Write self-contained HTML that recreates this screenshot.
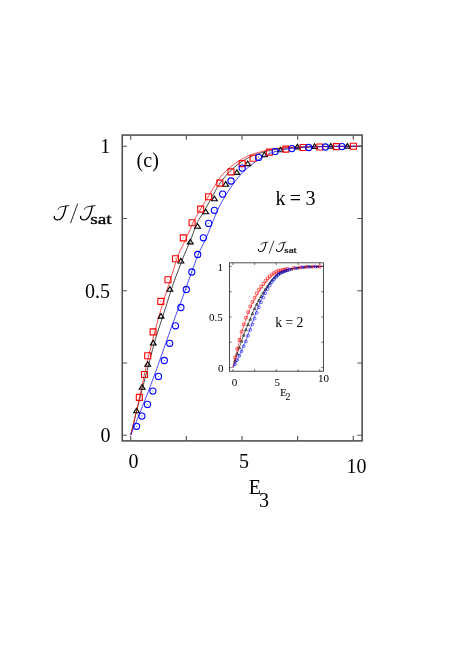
<!DOCTYPE html>
<html><head><meta charset="utf-8"><title>J/Jsat vs E3</title>
<style>html,body{margin:0;padding:0;background:#fff;}body{width:457px;height:646px;overflow:hidden;font-family:"Liberation Serif",serif;}svg{display:block;will-change:transform;}</style></head>
<body>
<svg width="457" height="646" viewBox="0 0 457 646" font-family="'Liberation Serif', serif" fill="#000">
<rect x="0" y="0" width="457" height="646" fill="#fff"/>
<defs><clipPath id="cm"><rect x="122.25" y="135.07" width="239.88" height="305.83"/></clipPath>
<clipPath id="ci"><rect x="229.5" y="262.8" width="93.95" height="108.46"/></clipPath></defs>
<g clip-path="url(#cm)" fill="none" stroke-width="0.72">
<path d="M130.7 435.1 L132.16 429.08 L133.61 423.13 L135.07 417.23 L136.52 411.39 L137.98 405.6 L139.43 399.86 L140.89 394.17 L142.34 388.52 L143.8 382.97 L145.25 377.5 L146.71 372.04 L148.16 366.52 L149.62 360.89 L151.07 355.25 L152.53 349.69 L153.99 344.31 L155.44 339.22 L156.9 334.45 L158.35 329.91 L159.81 325.48 L161.26 321.04 L162.72 316.52 L164.17 311.95 L165.63 307.36 L167.08 302.77 L168.54 298.21 L169.99 293.71 L171.45 289.29 L172.91 284.97 L174.36 280.79 L175.82 276.79 L177.27 273.03 L178.73 269.28 L180.18 265.44 L181.64 261.6 L183.09 257.81 L184.55 254.14 L186 250.67 L187.46 247.32 L188.91 244.01 L190.37 240.61 L191.82 237.02 L193.28 233.04 L194.74 228.39 L196.19 224.34 L197.65 221.53 L199.1 219.22 L200.56 217.11 L202.01 214.91 L203.47 212.46 L204.92 209.92 L206.38 207.31 L207.83 204.65 L209.29 201.96 L210.74 199.26 L212.2 196.57 L213.65 193.92 L215.11 191.33 L216.57 188.82 L218.02 186.41 L219.48 184.12 L220.93 181.97 L222.39 179.99 L223.84 178.13 L225.3 176.37 L226.75 174.7 L228.21 173.12 L229.66 171.61 L231.12 170.19 L232.57 168.82 L234.03 167.53 L235.48 166.29 L236.94 165.11 L238.4 164 L239.85 162.95 L241.31 161.94 L242.76 160.97 L244.22 160.05 L245.67 159.18 L247.13 158.38 L248.58 157.64 L250.04 156.95 L251.49 156.32 L252.95 155.72 L254.4 155.15 L255.86 154.61 L257.32 154.09 L258.77 153.6 L260.23 153.13 L261.68 152.69 L263.14 152.27 L264.59 151.85 L266.05 151.45 L267.5 151.07 L268.96 150.72 L270.41 150.42 L271.87 150.12 L273.32 149.84 L274.78 149.56 L276.23 149.3 L277.69 149.05 L279.15 148.82 L280.6 148.61 L282.06 148.42 L283.51 148.25 L284.97 148.1 L286.42 147.98 L287.88 147.86 L289.33 147.74 L290.79 147.63 L292.24 147.53 L293.7 147.43 L295.15 147.34 L296.61 147.26 L298.06 147.18 L299.52 147.11 L300.98 147.05 L302.43 146.99 L303.89 146.94 L305.34 146.89 L306.8 146.85 L308.25 146.8 L309.71 146.76 L311.16 146.72 L312.62 146.69 L314.07 146.65 L315.53 146.62 L316.98 146.59 L318.44 146.56 L319.89 146.53 L321.35 146.5 L322.81 146.48 L324.26 146.46 L325.72 146.44 L327.17 146.42 L328.63 146.41 L330.08 146.4 L331.54 146.39 L332.99 146.38 L334.45 146.37 L335.9 146.36 L337.36 146.35 L338.81 146.34 L340.27 146.34 L341.73 146.33 L343.18 146.32 L344.64 146.31 L346.09 146.31 L347.55 146.3 L349 146.3 L350.46 146.29 L351.91 146.29 L353.37 146.28 L354.82 146.28 L356.28 146.28 L357.73 146.27 L359.19 146.27 L360.64 146.27 L362.1 146.27" stroke="#000"/>
<path d="M130.7 435.1 L132.16 429.25 L133.61 423.25 L135.07 417.11 L136.52 410.85 L137.98 404.47 L139.43 397.99 L140.89 391.42 L142.34 384.61 L143.8 377.49 L145.25 370.65 L146.71 364.3 L148.16 358.09 L149.62 352.03 L151.07 346.11 L152.53 340.34 L153.99 334.69 L155.44 329.19 L156.9 323.81 L158.35 318.57 L159.81 313.48 L161.26 308.53 L162.72 303.71 L164.17 298.98 L165.63 294.34 L167.08 289.75 L168.54 285.2 L169.99 280.67 L171.45 276.13 L172.91 271.56 L174.36 266.88 L175.82 262.09 L177.27 257.6 L178.73 253.82 L180.18 250.61 L181.64 247.7 L183.09 244.87 L184.55 241.92 L186 238.74 L187.46 235.44 L188.91 232.07 L190.37 228.73 L191.82 225.46 L193.28 222.35 L194.74 219.45 L196.19 216.71 L197.65 214.07 L199.1 211.53 L200.56 209.05 L202.01 206.63 L203.47 204.26 L204.92 201.91 L206.38 199.58 L207.83 197.24 L209.29 194.89 L210.74 192.49 L212.2 190.03 L213.65 187.56 L215.11 185.12 L216.57 182.75 L218.02 180.47 L219.48 178.34 L220.93 176.39 L222.39 174.66 L223.84 173.09 L225.3 171.64 L226.75 170.29 L228.21 169.01 L229.66 167.79 L231.12 166.6 L232.57 165.45 L234.03 164.34 L235.48 163.27 L236.94 162.26 L238.4 161.3 L239.85 160.38 L241.31 159.51 L242.76 158.66 L244.22 157.86 L245.67 157.1 L247.13 156.4 L248.58 155.76 L250.04 155.17 L251.49 154.61 L252.95 154.09 L254.4 153.61 L255.86 153.14 L257.32 152.71 L258.77 152.31 L260.23 151.94 L261.68 151.58 L263.14 151.21 L264.59 150.83 L266.05 150.46 L267.5 150.11 L268.96 149.79 L270.41 149.53 L271.87 149.29 L273.32 149.06 L274.78 148.84 L276.23 148.63 L277.69 148.43 L279.15 148.25 L280.6 148.09 L282.06 147.94 L283.51 147.81 L284.97 147.7 L286.42 147.61 L287.88 147.51 L289.33 147.43 L290.79 147.35 L292.24 147.27 L293.7 147.2 L295.15 147.13 L296.61 147.07 L298.06 147.01 L299.52 146.96 L300.98 146.91 L302.43 146.87 L303.89 146.83 L305.34 146.79 L306.8 146.76 L308.25 146.72 L309.71 146.69 L311.16 146.66 L312.62 146.63 L314.07 146.61 L315.53 146.58 L316.98 146.55 L318.44 146.53 L319.89 146.51 L321.35 146.49 L322.81 146.47 L324.26 146.45 L325.72 146.44 L327.17 146.42 L328.63 146.41 L330.08 146.4 L331.54 146.39 L332.99 146.38 L334.45 146.37 L335.9 146.36 L337.36 146.35 L338.81 146.35 L340.27 146.34 L341.73 146.33 L343.18 146.32 L344.64 146.31 L346.09 146.31 L347.55 146.3 L349 146.3 L350.46 146.29 L351.91 146.29 L353.37 146.28 L354.82 146.28 L356.28 146.28 L357.73 146.27 L359.19 146.27 L360.64 146.27 L362.1 146.27" stroke="#f00"/>
<path d="M130.7 435.1 L132.16 431.67 L133.61 428.2 L135.07 424.7 L136.52 421.15 L137.98 417.58 L139.43 413.97 L140.89 410.34 L142.34 406.68 L143.8 402.99 L145.25 399.27 L146.71 395.54 L148.16 391.78 L149.62 387.99 L151.07 384.16 L152.53 380.26 L153.99 376.33 L155.44 372.36 L156.9 368.35 L158.35 364.29 L159.81 360.18 L161.26 356.05 L162.72 351.93 L164.17 347.82 L165.63 343.68 L167.08 339.54 L168.54 335.39 L169.99 331.26 L171.45 327.17 L172.91 323.12 L174.36 319.13 L175.82 315.23 L177.27 311.4 L178.73 307.61 L180.18 303.82 L181.64 300 L183.09 296.11 L184.55 292.12 L186 288.04 L187.46 283.91 L188.91 279.77 L190.37 275.65 L191.82 271.58 L193.28 267.57 L194.74 263.52 L196.19 259.56 L197.65 255.85 L199.1 252.51 L200.56 249.47 L202.01 246.57 L203.47 243.67 L204.92 240.61 L206.38 237.32 L207.83 233.87 L209.29 230.34 L210.74 226.75 L212.2 223.16 L213.65 219.63 L215.11 215.99 L216.57 212.42 L218.02 209.24 L219.48 206.33 L220.93 203.56 L222.39 200.92 L223.84 198.39 L225.3 195.95 L226.75 193.6 L228.21 191.33 L229.66 189.1 L231.12 186.95 L232.57 184.87 L234.03 182.88 L235.48 180.96 L236.94 179.12 L238.4 177.35 L239.85 175.64 L241.31 174 L242.76 172.44 L244.22 170.97 L245.67 169.59 L247.13 168.31 L248.58 167.08 L250.04 165.91 L251.49 164.75 L252.95 163.6 L254.4 162.5 L255.86 161.44 L257.32 160.46 L258.77 159.52 L260.23 158.63 L261.68 157.78 L263.14 156.94 L264.59 156.1 L266.05 155.27 L267.5 154.51 L268.96 153.82 L270.41 153.25 L271.87 152.72 L273.32 152.23 L274.78 151.75 L276.23 151.31 L277.69 150.89 L279.15 150.51 L280.6 150.15 L282.06 149.83 L283.51 149.55 L284.97 149.31 L286.42 149.08 L287.88 148.87 L289.33 148.67 L290.79 148.47 L292.24 148.29 L293.7 148.12 L295.15 147.96 L296.61 147.81 L298.06 147.67 L299.52 147.55 L300.98 147.44 L302.43 147.34 L303.89 147.25 L305.34 147.18 L306.8 147.12 L308.25 147.06 L309.71 147 L311.16 146.95 L312.62 146.9 L314.07 146.85 L315.53 146.8 L316.98 146.76 L318.44 146.72 L319.89 146.68 L321.35 146.65 L322.81 146.62 L324.26 146.59 L325.72 146.56 L327.17 146.54 L328.63 146.52 L330.08 146.5 L331.54 146.48 L332.99 146.47 L334.45 146.45 L335.9 146.43 L337.36 146.42 L338.81 146.4 L340.27 146.39 L341.73 146.38 L343.18 146.36 L344.64 146.35 L346.09 146.34 L347.55 146.33 L349 146.32 L350.46 146.31 L351.91 146.3 L353.37 146.29 L354.82 146.29 L356.28 146.28 L357.73 146.28 L359.19 146.27 L360.64 146.27 L362.1 146.27" stroke="#00f"/>
</g>
<g fill="none" stroke="#000" stroke-width="1.12" stroke-linejoin="miter"><path d="M136.5 408.2 L133.6 412.8 L139.4 412.8Z"/><path d="M142.1 384.6 L139.2 389.2 L145 389.2Z"/><path d="M147.7 361.7 L144.8 366.3 L150.6 366.3Z"/><path d="M153.3 340.4 L150.4 345 L156.2 345Z"/><path d="M161 313.5 L158.1 318.1 L163.9 318.1Z"/><path d="M169.9 286.6 L167 291.2 L172.8 291.2Z"/><path d="M180.9 258.4 L178 263 L183.8 263Z"/><path d="M190.3 239.3 L187.4 243.9 L193.2 243.9Z"/><path d="M197.6 223.7 L194.7 228.3 L200.5 228.3Z"/><path d="M205.7 209.2 L202.8 213.8 L208.6 213.8Z"/><path d="M214.4 196.1 L211.5 200.7 L217.3 200.7Z"/><path d="M225.7 181.6 L222.8 186.2 L228.6 186.2Z"/><path d="M236.9 169.8 L234 174.4 L239.8 174.4Z"/><path d="M247.7 161 L244.8 165.6 L250.6 165.6Z"/><path d="M264.5 152.2 L261.6 156.8 L267.4 156.8Z"/><path d="M280.5 147.2 L277.6 151.8 L283.4 151.8Z"/><path d="M297.4 144.3 L294.5 148.9 L300.3 148.9Z"/><path d="M314.5 143.8 L311.6 148.4 L317.4 148.4Z"/><path d="M330.8 143.5 L327.9 148.1 L333.7 148.1Z"/><path d="M347.4 143.5 L344.5 148.1 L350.3 148.1Z"/></g>
<g fill="#000" fill-opacity="0.25" stroke="none"><circle cx="136.5" cy="411.3" r="0.45"/><circle cx="142.1" cy="387.7" r="0.45"/><circle cx="147.7" cy="364.8" r="0.45"/><circle cx="153.3" cy="343.5" r="0.45"/><circle cx="161" cy="316.6" r="0.45"/><circle cx="169.9" cy="289.7" r="0.45"/><circle cx="180.9" cy="261.5" r="0.45"/><circle cx="190.3" cy="242.4" r="0.45"/><circle cx="197.6" cy="226.8" r="0.45"/><circle cx="205.7" cy="212.3" r="0.45"/><circle cx="214.4" cy="199.2" r="0.45"/><circle cx="225.7" cy="184.7" r="0.45"/><circle cx="236.9" cy="172.9" r="0.45"/><circle cx="247.7" cy="164.1" r="0.45"/><circle cx="264.5" cy="155.3" r="0.45"/><circle cx="280.5" cy="150.3" r="0.45"/><circle cx="297.4" cy="147.4" r="0.45"/><circle cx="314.5" cy="146.9" r="0.45"/><circle cx="330.8" cy="146.6" r="0.45"/><circle cx="347.4" cy="146.6" r="0.45"/></g>
<g fill="none" stroke="#f00" stroke-width="1.1" stroke-linejoin="round"><rect x="136.3" y="394.4" width="6" height="6"/><rect x="141.5" y="371.5" width="6" height="6"/><rect x="144.7" y="352.8" width="6" height="6"/><rect x="150.1" y="328.9" width="6" height="6"/><rect x="157.8" y="298.4" width="6" height="6"/><rect x="164.95" y="276.75" width="6" height="6"/><rect x="172.5" y="255.7" width="6" height="6"/><rect x="180.3" y="234.9" width="6" height="6"/><rect x="189.1" y="219.7" width="6" height="6"/><rect x="197.7" y="206.1" width="6" height="6"/><rect x="205.6" y="193.8" width="6" height="6"/><rect x="216.85" y="180.1" width="6" height="6"/><rect x="228" y="168.9" width="6" height="6"/><rect x="239.2" y="160.6" width="6" height="6"/><rect x="250.1" y="155.2" width="6" height="6"/><rect x="266.4" y="149.15" width="6" height="6"/><rect x="282.9" y="146.1" width="6" height="6"/><rect x="300.1" y="144.5" width="6" height="6"/><rect x="316.8" y="144" width="6" height="6"/><rect x="333.4" y="143.6" width="6" height="6"/><rect x="350.4" y="143.3" width="6" height="6"/></g>
<g fill="#f00" fill-opacity="0.45" stroke="none"><circle cx="139.3" cy="397.4" r="0.6"/><circle cx="144.5" cy="374.5" r="0.6"/><circle cx="147.7" cy="355.8" r="0.6"/><circle cx="153.1" cy="331.9" r="0.6"/><circle cx="160.8" cy="301.4" r="0.6"/><circle cx="167.95" cy="279.75" r="0.6"/><circle cx="175.5" cy="258.7" r="0.6"/><circle cx="183.3" cy="237.9" r="0.6"/><circle cx="192.1" cy="222.7" r="0.6"/><circle cx="200.7" cy="209.1" r="0.6"/><circle cx="208.6" cy="196.8" r="0.6"/><circle cx="219.85" cy="183.1" r="0.6"/><circle cx="231" cy="171.9" r="0.6"/><circle cx="242.2" cy="163.6" r="0.6"/><circle cx="253.1" cy="158.2" r="0.6"/><circle cx="269.4" cy="152.15" r="0.6"/><circle cx="285.9" cy="149.1" r="0.6"/><circle cx="303.1" cy="147.5" r="0.6"/><circle cx="319.8" cy="147" r="0.6"/><circle cx="336.4" cy="146.6" r="0.6"/><circle cx="353.4" cy="146.3" r="0.6"/></g>
<g fill="none" stroke="#00f" stroke-width="1.1"><circle cx="136.6" cy="426.3" r="3.08"/><circle cx="141.9" cy="416.1" r="3.08"/><circle cx="147.5" cy="404.4" r="3.08"/><circle cx="152.9" cy="391.1" r="3.08"/><circle cx="158.5" cy="376.4" r="3.08"/><circle cx="164.3" cy="360.5" r="3.08"/><circle cx="169.7" cy="343.3" r="3.08"/><circle cx="175.5" cy="325.8" r="3.08"/><circle cx="180.9" cy="307.5" r="3.08"/><circle cx="186.35" cy="289.45" r="3.08"/><circle cx="191.8" cy="272" r="3.08"/><circle cx="197.7" cy="254.5" r="3.08"/><circle cx="203.35" cy="237.8" r="3.08"/><circle cx="208.6" cy="223.4" r="3.08"/><circle cx="214.35" cy="210.3" r="3.08"/><circle cx="222.6" cy="194.1" r="3.08"/><circle cx="231" cy="181" r="3.08"/><circle cx="242.2" cy="168.1" r="3.08"/><circle cx="258.6" cy="157.4" r="3.08"/><circle cx="275.2" cy="151.4" r="3.08"/><circle cx="291.9" cy="148.6" r="3.08"/><circle cx="308.7" cy="147.5" r="3.08"/><circle cx="325.4" cy="147" r="3.08"/><circle cx="342" cy="146.6" r="3.08"/></g>
<g fill="#00f" fill-opacity="0.5" stroke="none"><circle cx="136.6" cy="426.3" r="0.6"/><circle cx="141.9" cy="416.1" r="0.6"/><circle cx="147.5" cy="404.4" r="0.6"/><circle cx="152.9" cy="391.1" r="0.6"/><circle cx="158.5" cy="376.4" r="0.6"/><circle cx="164.3" cy="360.5" r="0.6"/><circle cx="169.7" cy="343.3" r="0.6"/><circle cx="175.5" cy="325.8" r="0.6"/><circle cx="180.9" cy="307.5" r="0.6"/><circle cx="186.35" cy="289.45" r="0.6"/><circle cx="191.8" cy="272" r="0.6"/><circle cx="197.7" cy="254.5" r="0.6"/><circle cx="203.35" cy="237.8" r="0.6"/><circle cx="208.6" cy="223.4" r="0.6"/><circle cx="214.35" cy="210.3" r="0.6"/><circle cx="222.6" cy="194.1" r="0.6"/><circle cx="231" cy="181" r="0.6"/><circle cx="242.2" cy="168.1" r="0.6"/><circle cx="258.6" cy="157.4" r="0.6"/><circle cx="275.2" cy="151.4" r="0.6"/><circle cx="291.9" cy="148.6" r="0.6"/><circle cx="308.7" cy="147.5" r="0.6"/><circle cx="325.4" cy="147" r="0.6"/><circle cx="342" cy="146.6" r="0.6"/></g>
<g fill="none" stroke="#484848" stroke-width="1.5">
<rect x="122.25" y="135.07" width="239.88" height="305.83"/>
<path d="M130.74 440.9 v-4.8 M130.74 135.07 v4.8 M186.38 440.9 v-4.8 M186.38 135.07 v4.8 M242.02 440.9 v-4.8 M242.02 135.07 v4.8 M297.66 440.9 v-4.8 M297.66 135.07 v4.8 M353.3 440.9 v-4.8 M353.3 135.07 v4.8 M122.25 435.2 h4.8 M362.13 435.2 h-4.8 M122.25 362.97 h4.8 M362.13 362.97 h-4.8 M122.25 290.74 h4.8 M362.13 290.74 h-4.8 M122.25 218.5 h4.8 M362.13 218.5 h-4.8 M122.25 146.27 h4.8 M362.13 146.27 h-4.8" stroke-width="1.15" stroke="#555"/>
</g>
<g font-size="20">
<text x="133.4" y="467.5" text-anchor="middle">0</text>
<text x="244.1" y="467.5" text-anchor="middle">5</text>
<text x="356.6" y="472.6" text-anchor="middle">10</text>
<text x="110.3" y="153.1" text-anchor="end">1</text>
<text x="109.9" y="297.8" text-anchor="end">0.5</text>
<text x="110.4" y="441.9" text-anchor="end">0</text>
<text x="248.8" y="493.8">E</text>
<text x="258.9" y="506.9">3</text>
<text x="136.6" y="166.9">(c)</text>
<text x="275.4" y="205" word-spacing="-0.6">k = 3</text>
</g>
<g transform="translate(53.9 205.5) scale(1)" fill="none" stroke="#000" stroke-linecap="round" stroke-linejoin="round"><path transform="translate(0 0)" d="M4.1 3.9 C4.9 2.3 6.0 1.45 7.6 1.25 L14.9 0.1" stroke-width="0.85"/><path transform="translate(0 0)" d="M11.9 0.6 C11.65 2.6 11.4 3.7 11.0 5.1 C10.4 7.3 9.8 9.0 9.2 10.25 C8.4 11.9 7.5 12.9 6.6 13.45 C5.6 14.1 4.6 14.45 3.5 14.4 C2.3 14.35 1.3 13.9 0.8 13.2 C0.35 12.6 0.25 11.8 0.45 11.0" stroke-width="1.35"/><path transform="translate(26.3 0)" d="M4.1 3.9 C4.9 2.3 6.0 1.45 7.6 1.25 L14.9 0.1" stroke-width="0.85"/><path transform="translate(26.3 0)" d="M11.9 0.6 C11.65 2.6 11.4 3.7 11.0 5.1 C10.4 7.3 9.8 9.0 9.2 10.25 C8.4 11.9 7.5 12.9 6.6 13.45 C5.6 14.1 4.6 14.45 3.5 14.4 C2.3 14.35 1.3 13.9 0.8 13.2 C0.35 12.6 0.25 11.8 0.45 11.0" stroke-width="1.35"/><path d="M23.7 -1.6 L16.8 17.1" stroke-width="0.85"/></g><text x="90.3" y="223.5" font-size="14.6" font-weight="normal" textLength="21.4" lengthAdjust="spacingAndGlyphs" stroke="#000" stroke-width="0.32">sat</text>
<g clip-path="url(#ci)" fill="none" stroke-width="0.6">
<path d="M232.9 367.6 L233.55 365.54 L234.2 363.48 L234.85 361.42 L235.5 359.36 L236.15 357.28 L236.8 355.22 L237.45 353.21 L238.1 351.26 L238.74 349.33 L239.39 347.42 L240.04 345.49 L240.69 343.57 L241.34 341.68 L241.99 339.83 L242.64 338.03 L243.29 336.26 L243.94 334.53 L244.59 332.83 L245.24 331.17 L245.89 329.54 L246.54 327.97 L247.19 326.44 L247.84 324.91 L248.49 323.36 L249.14 321.8 L249.79 320.22 L250.43 318.61 L251.08 316.93 L251.73 315.23 L252.38 313.6 L253.03 312.05 L253.68 310.55 L254.33 309.11 L254.98 307.73 L255.63 306.41 L256.28 305.13 L256.93 303.87 L257.58 302.65 L258.23 301.44 L258.88 300.25 L259.53 299.04 L260.18 297.84 L260.83 296.68 L261.48 295.58 L262.12 294.56 L262.77 293.55 L263.42 292.51 L264.07 291.41 L264.72 290.29 L265.37 289.23 L266.02 288.27 L266.67 287.37 L267.32 286.49 L267.97 285.58 L268.62 284.67 L269.27 283.76 L269.92 282.86 L270.57 281.95 L271.22 281.06 L271.87 280.22 L272.52 279.46 L273.17 278.76 L273.81 278.09 L274.46 277.45 L275.11 276.83 L275.76 276.24 L276.41 275.66 L277.06 275.08 L277.71 274.53 L278.36 274.02 L279.01 273.54 L279.66 273.1 L280.31 272.7 L280.96 272.36 L281.61 272.08 L282.26 271.82 L282.91 271.57 L283.56 271.32 L284.21 271.07 L284.86 270.84 L285.5 270.62 L286.15 270.41 L286.8 270.2 L287.45 270 L288.1 269.81 L288.75 269.63 L289.4 269.46 L290.05 269.31 L290.7 269.16 L291.35 269.02 L292 268.89 L292.65 268.76 L293.3 268.64 L293.95 268.52 L294.6 268.41 L295.25 268.3 L295.9 268.19 L296.55 268.09 L297.19 267.99 L297.84 267.89 L298.49 267.79 L299.14 267.69 L299.79 267.59 L300.44 267.49 L301.09 267.4 L301.74 267.32 L302.39 267.25 L303.04 267.19 L303.69 267.13 L304.34 267.07 L304.99 267.02 L305.64 266.96 L306.29 266.91 L306.94 266.86 L307.59 266.82 L308.23 266.78 L308.88 266.74 L309.53 266.71 L310.18 266.68 L310.83 266.66 L311.48 266.64 L312.13 266.62 L312.78 266.6 L313.43 266.59 L314.08 266.57 L314.73 266.56 L315.38 266.54 L316.03 266.53 L316.68 266.52 L317.33 266.5 L317.98 266.49 L318.63 266.48 L319.28 266.48 L319.92 266.47 L320.57 266.46 L321.22 266.46 L321.87 266.45 L322.52 266.45 L323.17 266.45" stroke="#000"/>
<path d="M232.9 367.6 L233.55 364.52 L234.2 361.58 L234.85 358.78 L235.5 356.14 L236.15 353.71 L236.8 351.34 L237.45 348.89 L238.1 346.27 L238.74 343.57 L239.39 340.91 L240.04 338.39 L240.69 335.95 L241.34 333.58 L241.99 331.32 L242.64 329.17 L243.29 327.11 L243.94 325.1 L244.59 323.13 L245.24 321.2 L245.89 319.32 L246.54 317.53 L247.19 315.85 L247.84 314.25 L248.49 312.66 L249.14 311.02 L249.79 309.33 L250.43 307.69 L251.08 306.18 L251.73 304.81 L252.38 303.52 L253.03 302.26 L253.68 301.01 L254.33 299.79 L254.98 298.58 L255.63 297.37 L256.28 296.12 L256.93 294.88 L257.58 293.68 L258.23 292.56 L258.88 291.49 L259.53 290.46 L260.18 289.49 L260.83 288.59 L261.48 287.73 L262.12 286.89 L262.77 286.06 L263.42 285.25 L264.07 284.44 L264.72 283.62 L265.37 282.76 L266.02 281.9 L266.67 281.08 L267.32 280.31 L267.97 279.56 L268.62 278.85 L269.27 278.18 L269.92 277.54 L270.57 276.94 L271.22 276.36 L271.87 275.8 L272.52 275.26 L273.17 274.75 L273.81 274.28 L274.46 273.86 L275.11 273.46 L275.76 273.08 L276.41 272.68 L277.06 272.29 L277.71 271.92 L278.36 271.58 L279.01 271.25 L279.66 270.94 L280.31 270.71 L280.96 270.57 L281.61 270.46 L282.26 270.36 L282.91 270.24 L283.56 270.09 L284.21 269.94 L284.86 269.79 L285.5 269.67 L286.15 269.56 L286.8 269.44 L287.45 269.33 L288.1 269.21 L288.75 269.09 L289.4 268.97 L290.05 268.85 L290.7 268.73 L291.35 268.62 L292 268.52 L292.65 268.43 L293.3 268.34 L293.95 268.25 L294.6 268.17 L295.25 268.08 L295.9 268 L296.55 267.92 L297.19 267.85 L297.84 267.77 L298.49 267.7 L299.14 267.63 L299.79 267.56 L300.44 267.49 L301.09 267.42 L301.74 267.36 L302.39 267.29 L303.04 267.23 L303.69 267.17 L304.34 267.12 L304.99 267.07 L305.64 267.03 L306.29 266.99 L306.94 266.96 L307.59 266.92 L308.23 266.89 L308.88 266.85 L309.53 266.82 L310.18 266.79 L310.83 266.77 L311.48 266.74 L312.13 266.72 L312.78 266.69 L313.43 266.67 L314.08 266.66 L314.73 266.64 L315.38 266.63 L316.03 266.61 L316.68 266.6 L317.33 266.58 L317.98 266.57 L318.63 266.55 L319.28 266.54 L319.92 266.53 L320.57 266.51 L321.22 266.5 L321.87 266.49 L322.52 266.48 L323.17 266.47" stroke="#f00"/>
<path d="M232.9 367.6 L233.55 366.65 L234.2 365.62 L234.85 364.52 L235.5 363.34 L236.15 362.05 L236.8 360.72 L237.45 359.4 L238.1 358.06 L238.74 356.71 L239.39 355.33 L240.04 353.95 L240.69 352.54 L241.34 351.08 L241.99 349.54 L242.64 347.94 L243.29 346.37 L243.94 344.89 L244.59 343.46 L245.24 341.98 L245.89 340.36 L246.54 338.62 L247.19 336.81 L247.84 335.02 L248.49 333.19 L249.14 331.36 L249.79 329.57 L250.43 327.83 L251.08 326.12 L251.73 324.4 L252.38 322.66 L253.03 320.91 L253.68 319.14 L254.33 317.36 L254.98 315.56 L255.63 313.78 L256.28 312.03 L256.93 310.32 L257.58 308.64 L258.23 306.99 L258.88 305.36 L259.53 303.76 L260.18 302.21 L260.83 300.72 L261.48 299.29 L262.12 297.88 L262.77 296.49 L263.42 295.14 L264.07 293.81 L264.72 292.51 L265.37 291.24 L266.02 290 L266.67 288.79 L267.32 287.61 L267.97 286.45 L268.62 285.34 L269.27 284.26 L269.92 283.22 L270.57 282.23 L271.22 281.31 L271.87 280.43 L272.52 279.58 L273.17 278.74 L273.81 277.89 L274.46 277.09 L275.11 276.35 L275.76 275.65 L276.41 275.01 L277.06 274.43 L277.71 273.92 L278.36 273.45 L279.01 273.03 L279.66 272.66 L280.31 272.31 L280.96 271.99 L281.61 271.68 L282.26 271.39 L282.91 271.12 L283.56 270.88 L284.21 270.65 L284.86 270.44 L285.5 270.23 L286.15 270.04 L286.8 269.86 L287.45 269.68 L288.1 269.5 L288.75 269.34 L289.4 269.18 L290.05 269.02 L290.7 268.87 L291.35 268.73 L292 268.59 L292.65 268.46 L293.3 268.32 L293.95 268.2 L294.6 268.08 L295.25 267.96 L295.9 267.85 L296.55 267.74 L297.19 267.64 L297.84 267.54 L298.49 267.44 L299.14 267.36 L299.79 267.28 L300.44 267.21 L301.09 267.15 L301.74 267.09 L302.39 267.03 L303.04 266.97 L303.69 266.92 L304.34 266.87 L304.99 266.82 L305.64 266.78 L306.29 266.74 L306.94 266.71 L307.59 266.68 L308.23 266.66 L308.88 266.64 L309.53 266.62 L310.18 266.6 L310.83 266.59 L311.48 266.57 L312.13 266.55 L312.78 266.54 L313.43 266.52 L314.08 266.51 L314.73 266.5 L315.38 266.49 L316.03 266.48 L316.68 266.47 L317.33 266.46 L317.98 266.46 L318.63 266.45 L319.28 266.45 L319.92 266.45 L320.57 266.45 L321.22 266.45 L321.87 266.45 L322.52 266.45 L323.17 266.45" stroke="#00f"/>
</g>
<g fill="none" stroke="#000" stroke-width="0.58" stroke-linejoin="miter"><path d="M235.07 359.52 L233.67 361.92 L236.47 361.92Z"/><path d="M237.24 352.64 L235.84 355.04 L238.64 355.04Z"/><path d="M239.41 346.17 L238.01 348.57 L240.81 348.57Z"/><path d="M241.58 339.8 L240.18 342.2 L242.98 342.2Z"/><path d="M243.75 333.83 L242.35 336.23 L245.15 336.23Z"/><path d="M245.92 328.27 L244.52 330.67 L247.32 330.67Z"/><path d="M248.09 323.11 L246.69 325.51 L249.49 325.51Z"/><path d="M250.26 317.85 L248.86 320.25 L251.66 320.25Z"/><path d="M252.43 312.28 L251.03 314.68 L253.83 314.68Z"/><path d="M254.6 307.33 L253.2 309.73 L256 309.73Z"/><path d="M256.77 302.98 L255.37 305.38 L258.17 305.38Z"/><path d="M258.94 298.93 L257.54 301.33 L260.34 301.33Z"/><path d="M261.11 294.99 L259.71 297.39 L262.51 297.39Z"/><path d="M263.28 291.55 L261.88 293.95 L264.68 293.95Z"/><path d="M265.45 287.91 L264.05 290.31 L266.85 290.31Z"/><path d="M267.62 284.87 L266.22 287.27 L269.02 287.27Z"/><path d="M269.79 281.84 L268.39 284.24 L271.19 284.24Z"/><path d="M271.96 278.91 L270.56 281.31 L273.36 281.31Z"/><path d="M274.13 276.58 L272.73 278.98 L275.53 278.98Z"/><path d="M276.3 274.56 L274.9 276.96 L277.7 276.96Z"/><path d="M278.47 272.74 L277.07 275.14 L279.87 275.14Z"/><path d="M280.64 271.32 L279.24 273.72 L282.04 273.72Z"/><path d="M282.81 270.41 L281.41 272.81 L284.21 272.81Z"/><path d="M284.98 269.6 L283.58 272 L286.38 272Z"/><path d="M287.15 268.89 L285.75 271.29 L288.55 271.29Z"/><path d="M291.49 267.79 L290.09 270.19 L292.89 270.19Z"/><path d="M298 266.67 L296.6 269.07 L299.4 269.07Z"/><path d="M304.51 265.86 L303.11 268.26 L305.91 268.26Z"/><path d="M311.02 265.45 L309.62 267.85 L312.42 267.85Z"/><path d="M317.53 265.3 L316.13 267.7 L318.93 267.7Z"/></g>
<g fill="none" stroke="#f00" stroke-width="0.58" stroke-linejoin="round"><rect x="233.77" y="356.19" width="2.6" height="2.6"/><rect x="235.94" y="347.69" width="2.6" height="2.6"/><rect x="238.11" y="338.48" width="2.6" height="2.6"/><rect x="240.28" y="330.19" width="2.6" height="2.6"/><rect x="242.45" y="323.01" width="2.6" height="2.6"/><rect x="244.62" y="316.43" width="2.6" height="2.6"/><rect x="246.79" y="310.77" width="2.6" height="2.6"/><rect x="248.96" y="305.1" width="2.6" height="2.6"/><rect x="251.13" y="300.55" width="2.6" height="2.6"/><rect x="253.3" y="296.3" width="2.6" height="2.6"/><rect x="255.47" y="292.06" width="2.6" height="2.6"/><rect x="257.64" y="288.41" width="2.6" height="2.6"/><rect x="259.81" y="285.38" width="2.6" height="2.6"/><rect x="261.98" y="282.55" width="2.6" height="2.6"/><rect x="264.15" y="279.61" width="2.6" height="2.6"/><rect x="266.32" y="277.09" width="2.6" height="2.6"/><rect x="268.49" y="274.96" width="2.6" height="2.6"/><rect x="270.66" y="273.14" width="2.6" height="2.6"/><rect x="272.83" y="271.72" width="2.6" height="2.6"/><rect x="275" y="270.41" width="2.6" height="2.6"/><rect x="277.17" y="269.4" width="2.6" height="2.6"/><rect x="279.34" y="268.99" width="2.6" height="2.6"/><rect x="281.51" y="268.49" width="2.6" height="2.6"/><rect x="283.68" y="268.08" width="2.6" height="2.6"/><rect x="285.85" y="267.66" width="2.6" height="2.6"/><rect x="292.36" y="266.67" width="2.6" height="2.6"/><rect x="298.87" y="265.94" width="2.6" height="2.6"/><rect x="305.38" y="265.51" width="2.6" height="2.6"/><rect x="311.89" y="265.3" width="2.6" height="2.6"/><rect x="318.4" y="265.17" width="2.6" height="2.6"/></g>
<g fill="none" stroke="#00f" stroke-width="0.58"><circle cx="235.07" cy="364.26" r="1.4"/><circle cx="237.24" cy="360.11" r="1.4"/><circle cx="239.41" cy="355.77" r="1.4"/><circle cx="241.58" cy="351.21" r="1.4"/><circle cx="243.75" cy="346.16" r="1.4"/><circle cx="245.92" cy="341.4" r="1.4"/><circle cx="248.09" cy="335.74" r="1.4"/><circle cx="250.26" cy="329.87" r="1.4"/><circle cx="252.43" cy="324.31" r="1.4"/><circle cx="254.6" cy="318.64" r="1.4"/><circle cx="256.77" cy="312.88" r="1.4"/><circle cx="258.94" cy="307.42" r="1.4"/><circle cx="261.11" cy="302.26" r="1.4"/><circle cx="263.28" cy="297.6" r="1.4"/><circle cx="265.45" cy="293.25" r="1.4"/><circle cx="267.62" cy="289.21" r="1.4"/><circle cx="269.79" cy="285.47" r="1.4"/><circle cx="271.96" cy="282.13" r="1.4"/><circle cx="274.13" cy="279.3" r="1.4"/><circle cx="276.3" cy="276.67" r="1.4"/><circle cx="278.47" cy="274.54" r="1.4"/><circle cx="280.64" cy="273.02" r="1.4"/><circle cx="282.81" cy="271.91" r="1.4"/><circle cx="284.98" cy="271" r="1.4"/><circle cx="287.15" cy="270.29" r="1.4"/><circle cx="289.32" cy="269.69" r="1.4"/><circle cx="295.83" cy="268.25" r="1.4"/><circle cx="302.34" cy="267.26" r="1.4"/><circle cx="308.85" cy="266.74" r="1.4"/><circle cx="315.36" cy="266.54" r="1.4"/></g>
<g fill="none" stroke="#444" stroke-width="0.95">
<rect x="229.5" y="262.8" width="93.95" height="108.46"/>
<path d="M232.9 371.26 v-2.1 M232.9 262.8 v2.1 M254.6 371.26 v-2.1 M254.6 262.8 v2.1 M276.3 371.26 v-2.1 M276.3 262.8 v2.1 M298 371.26 v-2.1 M298 262.8 v2.1 M319.7 371.26 v-2.1 M319.7 262.8 v2.1 M229.5 367.6 h2.1 M323.45 367.6 h-2.1 M229.5 342.31 h2.1 M323.45 342.31 h-2.1 M229.5 317.02 h2.1 M323.45 317.02 h-2.1 M229.5 291.74 h2.1 M323.45 291.74 h-2.1 M229.5 266.45 h2.1 M323.45 266.45 h-2.1" stroke-width="0.8"/>
</g>
<g font-size="11">
<text x="234.5" y="386.2" text-anchor="middle">0</text>
<text x="277.3" y="386.3" text-anchor="middle">5</text>
<text x="323.5" y="381.8" text-anchor="middle">10</text>
<text x="223.0" y="271.0" text-anchor="end">1</text>
<text x="222.8" y="321.2" text-anchor="end">0.5</text>
<text x="223.6" y="371.9" text-anchor="end">0</text>
<text x="279.9" y="395.8" font-size="11.4">E</text>
<text x="285.6" y="400.1" font-size="10">2</text>
<text x="275.2" y="326.9" font-size="13.7">k = 2</text>
</g>
<g transform="translate(258.15 242) scale(0.66)" fill="none" stroke="#000" stroke-linecap="round" stroke-linejoin="round"><path transform="translate(0 0)" d="M4.1 3.9 C4.9 2.3 6.0 1.45 7.6 1.25 L14.9 0.1" stroke-width="1.1"/><path transform="translate(0 0)" d="M11.9 0.6 C11.65 2.6 11.4 3.7 11.0 5.1 C10.4 7.3 9.8 9.0 9.2 10.25 C8.4 11.9 7.5 12.9 6.6 13.45 C5.6 14.1 4.6 14.45 3.5 14.4 C2.3 14.35 1.3 13.9 0.8 13.2 C0.35 12.6 0.25 11.8 0.45 11.0" stroke-width="1.53"/><path transform="translate(27.4 0)" d="M4.1 3.9 C4.9 2.3 6.0 1.45 7.6 1.25 L14.9 0.1" stroke-width="1.1"/><path transform="translate(27.4 0)" d="M11.9 0.6 C11.65 2.6 11.4 3.7 11.0 5.1 C10.4 7.3 9.8 9.0 9.2 10.25 C8.4 11.9 7.5 12.9 6.6 13.45 C5.6 14.1 4.6 14.45 3.5 14.4 C2.3 14.35 1.3 13.9 0.8 13.2 C0.35 12.6 0.25 11.8 0.45 11.0" stroke-width="1.53"/><path d="M23.7 -1.6 L16.8 17.1" stroke-width="1.1"/></g><text x="284.25" y="252.9" font-size="8.6" font-weight="normal" textLength="12.5" lengthAdjust="spacingAndGlyphs" stroke="#000" stroke-width="0.22">sat</text>
</svg>
</body></html>
